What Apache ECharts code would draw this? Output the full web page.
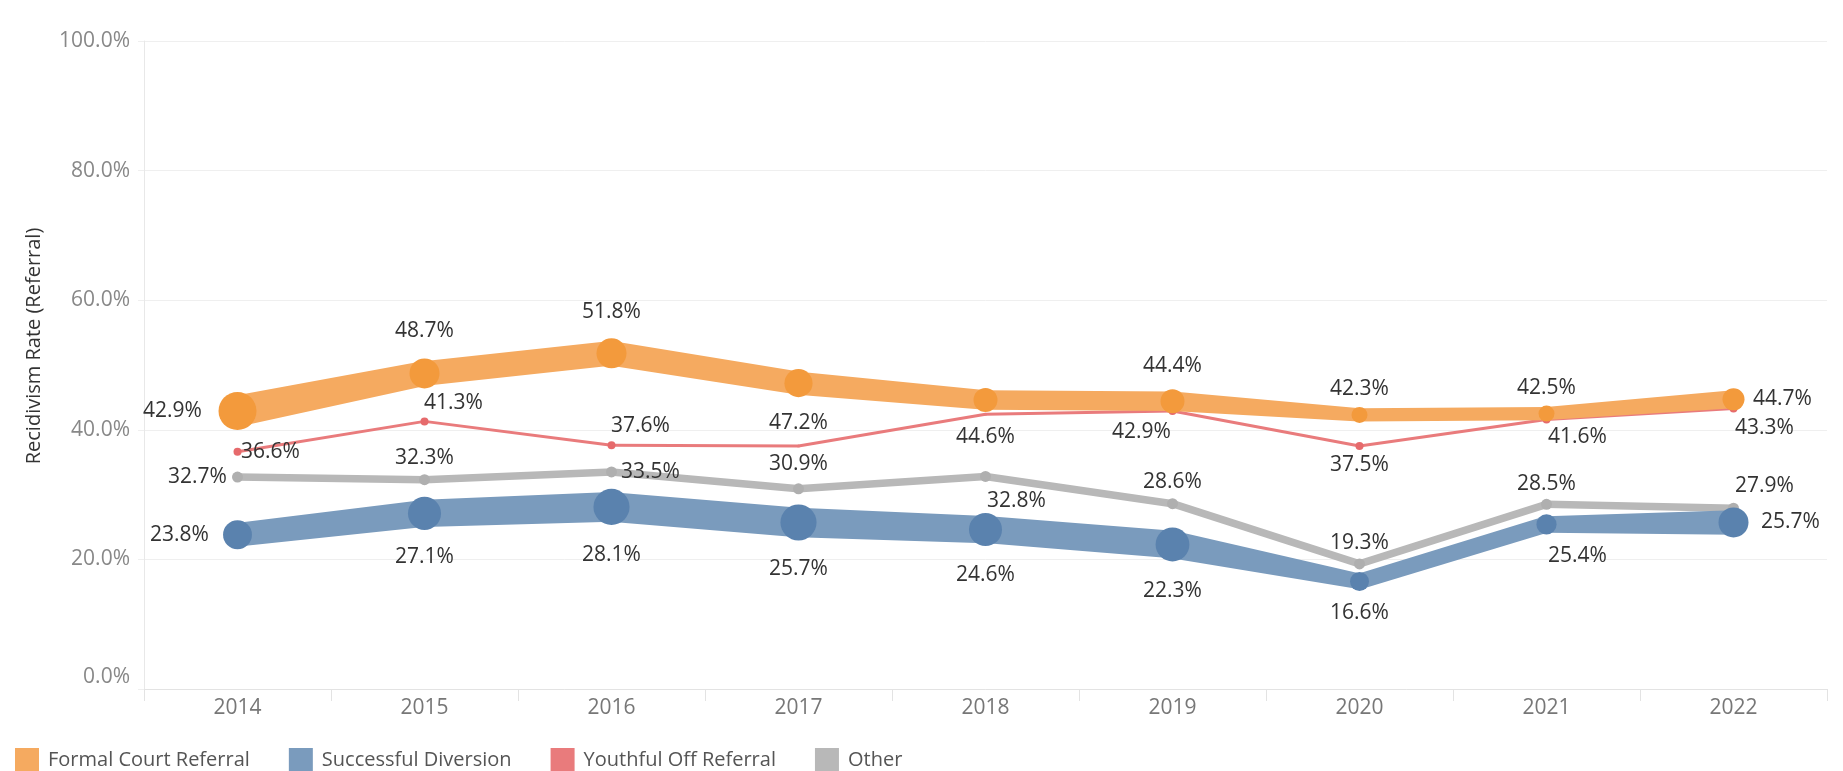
<!DOCTYPE html>
<html>
<head>
<meta charset="utf-8">
<script src="https://cdn.jsdelivr.net/npm/echarts@6/dist/echarts.min.js"></script>
<style>
  html, body { margin: 0; padding: 0; background: #fff; }
  #chart { width: 1843px; height: 771px; }
</style>
</head>
<body>
<div id="chart"></div>
<script>
// ---------------- DATA ----------------
const years = ['2014', '2015', '2016', '2017', '2018', '2019', '2020', '2021', '2022'];
const seriesNames = ['Formal Court Referral', 'Successful Diversion', 'Youthful Off Referral', 'Other'];

const formalCourtReferral  = [42.9, 48.7, 51.8, 47.2, 44.6, 44.4, 42.3, 42.5, 44.7];
const successfulDiversion  = [23.8, 27.1, 28.1, 25.7, 24.6, 22.3, 16.6, 25.4, 25.7];
const youthfulOffReferral  = [36.6, 41.3, 37.6, 37.5, 42.4, 42.9, 37.5, 41.6, 43.3];
const other                = [32.7, 32.3, 33.5, 30.9, 32.8, 28.6, 19.3, 28.5, 27.9];

// relative referral volume (size encoding, estimated, 0-100)
const formalCourtVolume = [100, 79, 79, 74, 63, 63, 42, 42, 58];
const diversionVolume   = [76, 87, 95, 95, 87, 89, 50, 53, 79];

// whether the value label is shown for each point (Tableau hid overlapping ones)
const youthfulLabelShown = [true, true, true, false, false, true, true, true, true];

// ---------------- LAYOUT / STYLE ----------------
const FONT = "'Open Sans', sans-serif";
const volToDiameter = v => v * 0.38;

// label offsets (px) from each point, mimicking Tableau's label placement
const labelOffsets = {
  'Formal Court Referral': [[-65,0],[0,-42],[0,-41],[0,40],[0,37],[0,-35],[0,-26],[0,-26],[49,0]],
  'Successful Diversion':  [[-58,0],[0,44],[0,48],[0,47],[0,45],[0,47],[0,32],[31,32],[57,0]],
  'Youthful Off Referral': [[33,0],[29,-18],[29,-19],null,null,[-31,21],[0,19],[31,18],[31,20]],
  'Other':                 [[-40,0],[0,-22],[39,0],[0,-25],[31,25],[0,-22],[0,-21],[0,-20],[31,-22]]
};

const styles = {
  'Formal Court Referral': {
    values: formalCourtReferral, line: '#f5aa60', dot: '#f39a3c', z: 5,
    dia: i => volToDiameter(formalCourtVolume[i]), lw: i => volToDiameter(formalCourtVolume[i]) * 0.82,
    dotShown: i => true
  },
  'Successful Diversion': {
    values: successfulDiversion, line: '#7a9bbd', dot: '#5a82ae', z: 3,
    dia: i => volToDiameter(diversionVolume[i]), lw: i => volToDiameter(diversionVolume[i]) * 0.82,
    dotShown: i => true
  },
  'Youthful Off Referral': {
    values: youthfulOffReferral, line: '#e97b7c', dot: '#e66a6c', z: 4,
    dia: i => 8, lw: i => 3,
    dotShown: i => youthfulLabelShown[i]
  },
  'Other': {
    values: other, line: '#b8b8b8', dot: '#afafaf', z: 2,
    dia: i => 11, lw: i => 7.5,
    dotShown: i => true
  }
};

function lineSeries(name) {
  const s = styles[name];
  const vals = s.values;
  return {
    name: name,
    type: 'custom',
    z: s.z,
    silent: true,
    itemStyle: { color: s.line },
    encode: { x: 0, y: 1 },
    data: vals.map((v, i) => [i, v]),
    renderItem: function (params, api) {
      const i = params.dataIndex;
      const p0 = api.coord([i, vals[i]]);
      const children = [];
      const h0 = s.lw(i) / 2;
      if (i < vals.length - 1) {
        const p1 = api.coord([i + 1, vals[i + 1]]);
        const h1 = s.lw(i + 1) / 2;
        const dx = p1[0] - p0[0], dy = p1[1] - p0[1];
        const len = Math.sqrt(dx * dx + dy * dy);
        const nx = -dy / len, ny = dx / len;
        children.push({
          type: 'polygon',
          shape: { points: [
            [p0[0] + nx * h0, p0[1] + ny * h0],
            [p1[0] + nx * h1, p1[1] + ny * h1],
            [p1[0] - nx * h1, p1[1] - ny * h1],
            [p0[0] - nx * h0, p0[1] - ny * h0]
          ] },
          style: { fill: s.line }
        });
      }
      children.push({ type: 'circle', shape: { cx: p0[0], cy: p0[1], r: h0 }, style: { fill: s.line } });
      if (s.dotShown(i)) {
        children.push({ type: 'circle', shape: { cx: p0[0], cy: p0[1], r: s.dia(i) / 2 }, style: { fill: s.dot } });
      }
      return { type: 'group', children: children };
    }
  };
}

// labels series built from the data arrays
const labelData = [];
seriesNames.forEach((name, si) => {
  styles[name].values.forEach((v, i) => {
    const off = labelOffsets[name][i];
    if (off) labelData.push([i, v, si, off[0], off[1]]);
  });
});

const labelSeries = {
  name: 'labels',
  type: 'custom',
  z: 10,
  silent: true,
  encode: { x: 0, y: 1 },
  data: labelData,
  renderItem: function (params, api) {
    const i = api.value(0), v = api.value(1);
    const p = api.coord([i, v]);
    return {
      type: 'text',
      x: p[0] + api.value(3),
      y: p[1] + api.value(4),
      style: {
        text: v.toFixed(1) + '%',
        fontSize: 21,
        fontFamily: FONT,
        fill: '#333',
        align: 'center',
        verticalAlign: 'middle'
      }
    };
  }
};

const chart = echarts.init(document.getElementById('chart'), null, { renderer: 'canvas' });
chart.setOption({
  animation: false,
  backgroundColor: '#fff',
  grid: { left: 144, right: 16, top: 41, bottom: 82, containLabel: false },
  legend: {
    data: seriesNames,
    left: 10,
    top: 743,
    icon: 'rect',
    itemWidth: 24,
    itemHeight: 24,
    itemGap: 39,
    selectedMode: false,
    textStyle: { fontSize: 20, fontFamily: FONT, color: '#555', padding: [0, 0, 0, 4] }
  },
  xAxis: {
    type: 'category',
    data: years,
    boundaryGap: true,
    axisLine: { show: true, lineStyle: { color: '#e3e3e3', width: 1 } },
    axisTick: { show: true, alignWithLabel: false, length: 12, lineStyle: { color: '#e3e3e3' } },
    axisLabel: { color: '#777', fontSize: 21, fontFamily: FONT, margin: 9 },
    splitLine: { show: false }
  },
  yAxis: {
    type: 'value',
    min: 0,
    max: 100,
    interval: 20,
    name: 'Recidivism Rate (Referral)',
    nameLocation: 'middle',
    nameGap: 100,
    nameTextStyle: { fontSize: 20, fontFamily: FONT, color: '#333', padding: [0, 0, 0, 38] },
    axisLine: { show: true, lineStyle: { color: '#e8e8e8' } },
    axisTick: { show: true, length: 6, lineStyle: { color: '#efefef' } },
    axisLabel: {
      color: '#888', fontSize: 21, fontFamily: FONT, margin: 14,
      formatter: v => v === 0 ? '{z|0.0%}' : v.toFixed(1) + '%',
      rich: { z: { color: '#888', fontSize: 21, fontFamily: FONT, padding: [0, 0, 24, 0] } }
    },
    splitLine: { show: true, lineStyle: { color: '#efefef', width: 1 } }
  },
  series: [
    lineSeries('Other'),
    lineSeries('Successful Diversion'),
    lineSeries('Youthful Off Referral'),
    lineSeries('Formal Court Referral'),
    labelSeries
  ]
});
</script>
</body>
</html>
